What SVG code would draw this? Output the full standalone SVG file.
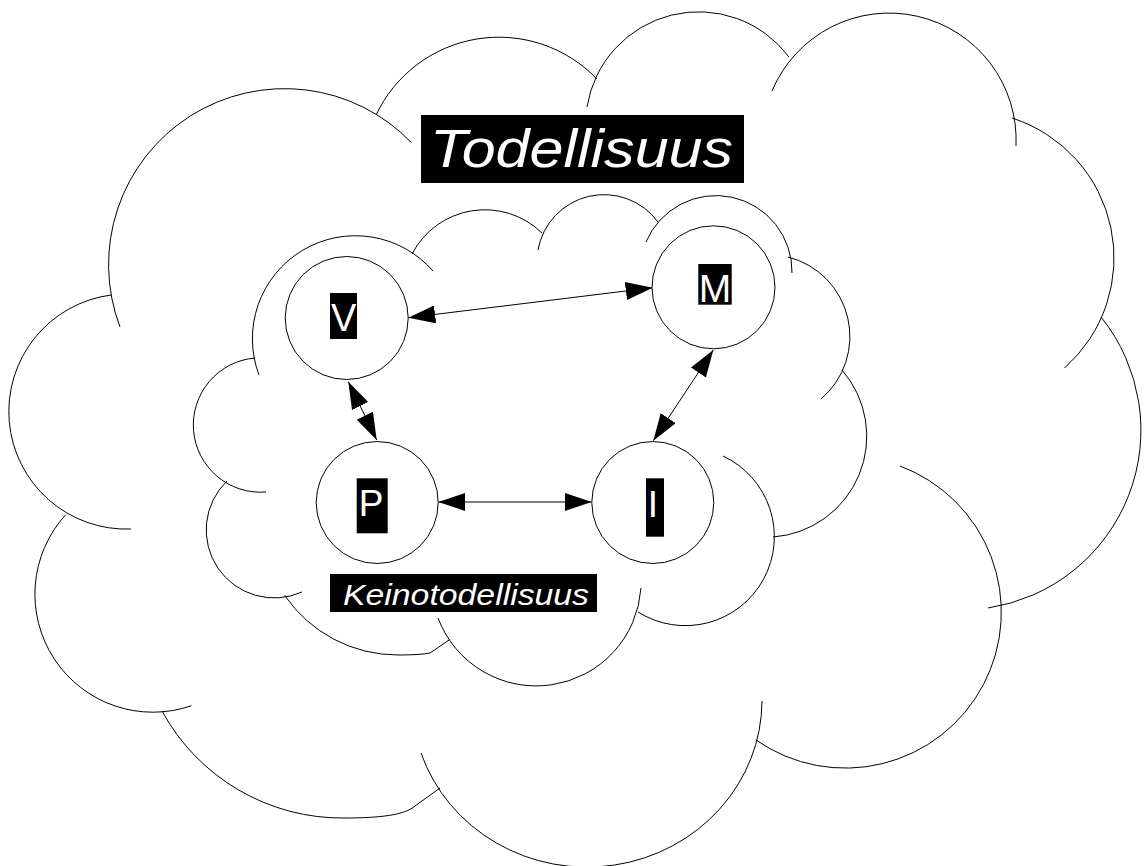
<svg xmlns="http://www.w3.org/2000/svg" width="1144" height="866" viewBox="0 0 1144 866">
<defs>
<style>
.cl{fill:none;stroke:#000;stroke-width:1}
.nd{fill:#fff;stroke:#000;stroke-width:1}
.bx{fill:#000}
.lb{fill:#fff;font-family:"Liberation Sans",Arial,sans-serif;text-anchor:middle}
.tt{fill:#fff;font-family:"Liberation Sans",Arial,sans-serif;font-style:italic}
.cn{stroke:#000;stroke-width:1;fill:none;marker-start:url(#ah);marker-end:url(#ah)}
</style>
<marker id="ah" viewBox="0 0 27 18" refX="27" refY="9" markerWidth="27" markerHeight="18" markerUnits="userSpaceOnUse" orient="auto-start-reverse">
<path d="M0,0 L27,9 L0,18 Z" fill="#000"/>
</marker>
</defs>
<rect width="1144" height="866" fill="#fff"/>
<g id="outer-cloud">
<path class="cl" d="M120,327 A176,176 0 0 1 411.5,142.7"/>
<path class="cl" d="M376,115 A136,136 0 0 1 597,79"/>
<path class="cl" d="M587,107 A113,113 0 0 1 789,57"/>
<path class="cl" d="M772,91 A127,127 0 0 1 1016,146"/>
<path class="cl" d="M1012,118 A147,147 0 0 1 1064.5,368"/>
<path class="cl" d="M1101,317 A180,180 0 0 1 988,608"/>
<path class="cl" d="M900,466 A156,156 0 1 1 756,740"/>
<path class="cl" d="M762,701 A175,167 0 0 1 421,753"/>
<path class="cl" d="M440,788 L415,806 C405,815 380,818 345,818 A205,205 0 0 1 162,711"/>
<path class="cl" d="M191.5,705.7 A118,118 0 0 1 65.7,514.7"/>
<path class="cl" d="M131,529 A117.55,117.55 0 0 1 111,295"/>
</g>
<g id="inner-cloud">
<path class="cl" d="M259,375 A103,103 0 0 1 433,271"/>
<path class="cl" d="M412,254 A82,82 0 0 1 542,233"/>
<path class="cl" d="M538,250 A67,67 0 0 1 658,222"/>
<path class="cl" d="M646,242 A76,76 0 0 1 792,273"/>
<path class="cl" d="M788,257 A82,82 0 0 1 821,399"/>
<path class="cl" d="M842,370 A101,101 0 0 1 773,537"/>
<path class="cl" d="M723,456 A89,89 0 1 1 638,612"/>
<path class="cl" d="M641,588 A105,105 0 0 1 438,618"/>
<path class="cl" d="M449,640 L430,653 Q420,655 398,655 A137,137 0 0 1 284.6,595.3"/>
<path class="cl" d="M302,592 A68,68 0 0 1 227,481"/>
<path class="cl" d="M266,492 A60,60 0 0 1 255,358"/>
</g>
<g id="title">
<rect class="bx" x="421" y="115" width="323" height="68"/>
<text class="tt" x="430" y="167" font-size="54" textLength="303" lengthAdjust="spacingAndGlyphs">Todellisuus</text>
</g>
<g id="subtitle">
<rect class="bx" x="330" y="574" width="267" height="38"/>
<text class="tt" x="343" y="605" font-size="30" textLength="246" lengthAdjust="spacingAndGlyphs">Keinotodellisuus</text>
</g>
<g id="connectors">
<line class="cn" x1="408.3" y1="317.7" x2="652.7" y2="287.7"/>
<line class="cn" x1="348.3" y1="381.7" x2="376.7" y2="440"/>
<line class="cn" x1="713.3" y1="350" x2="653.3" y2="440.7"/>
<line class="cn" x1="438.3" y1="502" x2="591.7" y2="502"/>
</g>
<g id="node-V">
<circle class="nd" cx="346.7" cy="318" r="61.5"/>
<rect class="bx" x="330" y="293" width="27" height="46"/>
<text class="lb" x="343.7" y="330.7" font-size="38">V</text>
</g>
<g id="node-M">
<circle class="nd" cx="713.5" cy="287.3" r="61.5"/>
<rect class="bx" x="698.3" y="264" width="33.4" height="40.7"/>
<text class="lb" x="715" y="301.7" font-size="39">M</text>
</g>
<g id="node-P">
<circle class="nd" cx="377.2" cy="502.5" r="61"/>
<rect class="bx" x="356.7" y="478.3" width="31" height="55"/>
<text class="lb" x="371" y="516.3" font-size="37">P</text>
</g>
<g id="node-I">
<circle class="nd" cx="652.8" cy="502.5" r="61"/>
<rect class="bx" x="646" y="478.3" width="18" height="58.4"/>
<text class="lb" x="653" y="516.5" font-size="37">I</text>
</g>
</svg>
